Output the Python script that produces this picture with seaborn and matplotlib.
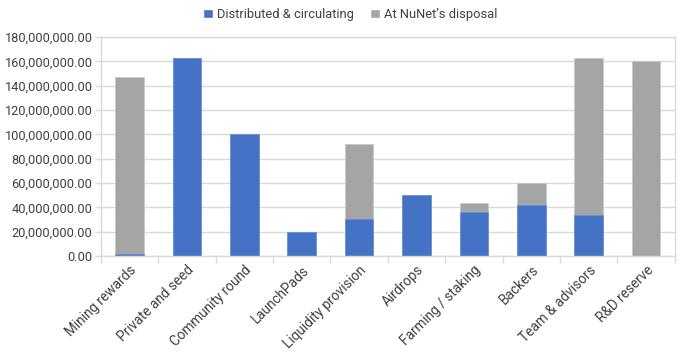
import numpy as np
import pandas as pd
import matplotlib
matplotlib.use('Agg')
import matplotlib.pyplot as plt
import seaborn as sns
from matplotlib.ticker import FuncFormatter, FixedLocator
from matplotlib.patches import Patch

sns.set_theme(style='white')
plt.rcParams['font.family'] = ['Roboto', 'DejaVu Sans']

categories = ['Mining rewards', 'Private and seed', 'Community round', 'LaunchPads',
              'Liquidity provision', 'Airdrops', 'Farming / staking', 'Backers',
              'Team & advisors', 'R&D reserve']
circulating = [1.5e6, 163e6, 100e6, 20e6, 30e6, 50e6, 36e6, 42e6, 34e6, 0]
disposal = [146e6, 0, 0, 0, 62e6, 0, 7.5e6, 18e6, 128.5e6, 160e6]

blue = '#4472C4'
grey = '#A5A5A5'

df = pd.DataFrame({'category': categories,
                   'circulating': circulating,
                   'disposal': disposal})
df['total'] = df['circulating'] + df['disposal']

fig = plt.figure(figsize=(7, 3.59), dpi=100)
ax = fig.add_axes([0.144, 0.287, 0.82, 0.61])

sns.barplot(data=df, x='category', y='total', color=grey, width=0.5,
            saturation=1, ax=ax, edgecolor='#C8C8C8', linewidth=0.5)
sns.barplot(data=df, x='category', y='circulating', color=blue, width=0.5,
            saturation=1, ax=ax, edgecolor='#6A8FD8', linewidth=0.5)

ax.set_ylim(0, 180e6)
ax.set_xlim(-0.5, len(categories) - 0.5)
ax.set_yticks(np.arange(0, 180e6 + 1, 20e6))
ax.yaxis.set_major_formatter(FuncFormatter(lambda v, p: f'{v:,.2f}'))
ax.set_xlabel('')
ax.set_ylabel('')

ax.yaxis.grid(True, color='#D9D9D9', linewidth=1)
ax.set_axisbelow(True)
for s in ax.spines.values():
    s.set_color('#D9D9D9')
    s.set_linewidth(1)

ax.tick_params(axis='y', labelsize=9.2, colors='#D9D9D9', labelcolor='#404040',
               length=4, width=1, left=True, pad=2)
ax.tick_params(axis='x', which='major', length=0, labelsize=9.8, labelcolor='#404040', pad=5)
ax.xaxis.set_minor_locator(FixedLocator(np.arange(-0.5, len(categories), 1)))
ax.tick_params(axis='x', which='minor', length=5, width=1, color='#D9D9D9', bottom=True)
plt.setp(ax.get_xticklabels(), rotation=45, ha='right', rotation_mode='anchor')

handles = [Patch(facecolor=blue, label='Distributed & circulating'),
           Patch(facecolor=grey, label='At NuNet\u2019s disposal')]
fig.legend(handles=handles, loc='upper center', bbox_to_anchor=(0.5, 1.01), ncol=2,
           frameon=False, fontsize=9.3, handlelength=0.8, handleheight=0.8,
           handletextpad=0.3, columnspacing=1.2, labelcolor='#404040')

fig.savefig('out.png', dpi=100)
